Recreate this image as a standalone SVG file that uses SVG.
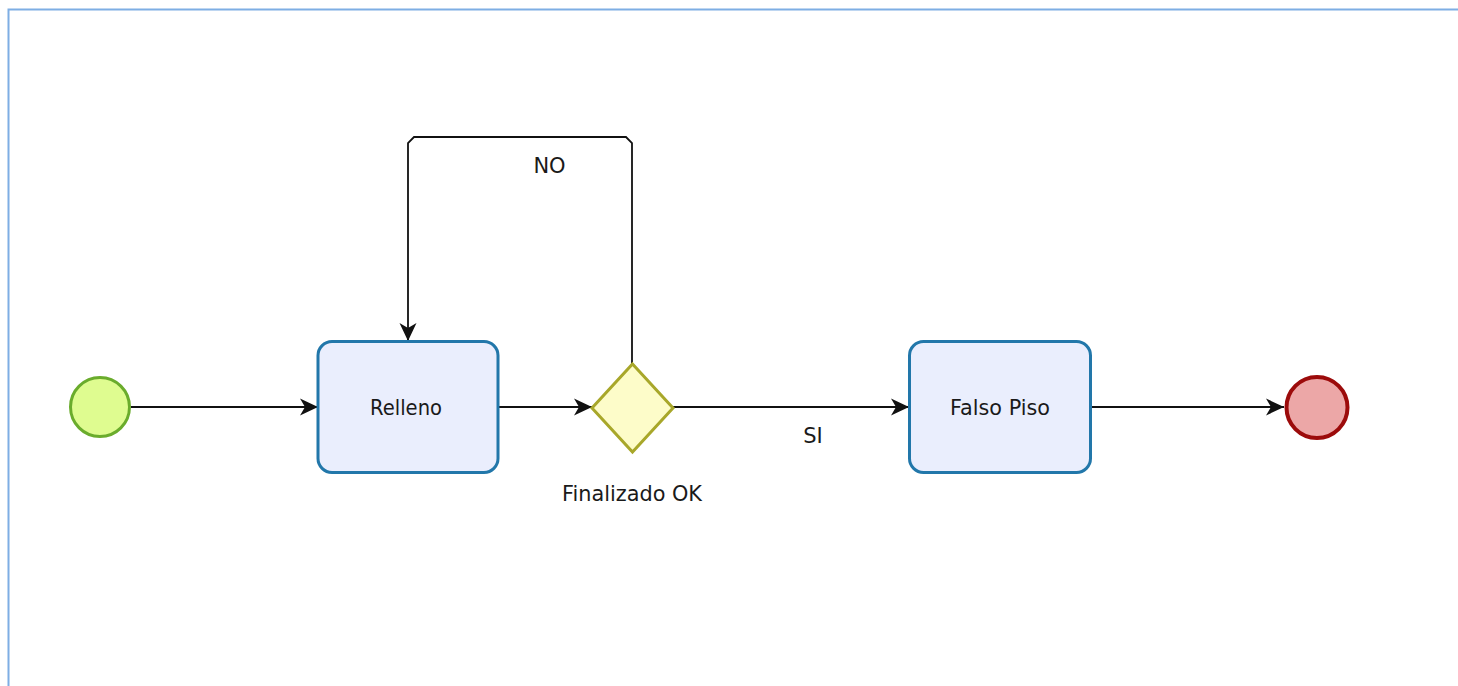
<svg xmlns="http://www.w3.org/2000/svg" width="1458" height="686" viewBox="0 0 1458 686">
  <style>
    .frame { fill: none; stroke: #7eaee4; stroke-width: 2; }
    .task { fill: #eaeefd; stroke: #2277aa; stroke-width: 3; }
    .start { fill: #dffc90; stroke: #6aac2c; stroke-width: 3; }
    .end { fill: #eca7a7; stroke: #9c0b0b; stroke-width: 4; }
    .gateway { fill: #fdfcc9; stroke: #a8a72a; stroke-width: 3; }
    .flow { fill: none; stroke: #111; stroke-width: 2; marker-end: url(#arrow); }
    .loop { fill: none; stroke: #111; stroke-width: 1.8; marker-end: url(#arrow); }
    text { font-family: "DejaVu Sans", Verdana, sans-serif; font-size: 21px; fill: #1a1a1a; text-anchor: middle; }
  </style>
  <defs>
    <marker id="arrow" markerUnits="userSpaceOnUse" markerWidth="20" markerHeight="20" viewBox="0 0 20 20" refX="18" refY="10" orient="auto">
      <path d="M0,1.5 L18,10 L0,18.5 L5,10 z" fill="#111"/>
    </marker>
  </defs>

  <rect width="1458" height="686" fill="#ffffff"/>
  <!-- canvas frame -->
  <path class="frame" d="M8.5,686 V9.5 H1458"/>

  <!-- sequence flows -->
  <g id="connectors">
    <path class="flow" d="M131,407 H318"/>
    <path class="flow" d="M498,407 H592"/>
    <path class="flow" d="M673,407 H909"/>
    <path class="flow" d="M1091,407 H1284"/>
    <path class="loop" d="M632,364 V143 L626,137 H414 L408,143 V341"/>
    <text x="549.5" y="173">NO</text>
    <text x="813" y="443">SI</text>
  </g>

  <g id="start-event">
    <circle class="start" cx="100" cy="407" r="29.5"/>
  </g>

  <g id="task-relleno">
    <rect class="task" x="318" y="341.5" width="180" height="131" rx="14"/>
    <text x="406" y="415" textLength="72" lengthAdjust="spacingAndGlyphs">Relleno</text>
  </g>

  <g id="gateway-finalizado">
    <polygon class="gateway" points="632.5,364 673,408 632.5,452 592,408"/>
    <text x="632" y="501" textLength="140" lengthAdjust="spacingAndGlyphs">Finalizado OK</text>
  </g>

  <g id="task-falso-piso">
    <rect class="task" x="909.5" y="341.5" width="181" height="131" rx="14"/>
    <text x="1000" y="415" textLength="100" lengthAdjust="spacingAndGlyphs">Falso Piso</text>
  </g>

  <g id="end-event">
    <circle class="end" cx="1317" cy="407.5" r="30.5"/>
  </g>
</svg>
